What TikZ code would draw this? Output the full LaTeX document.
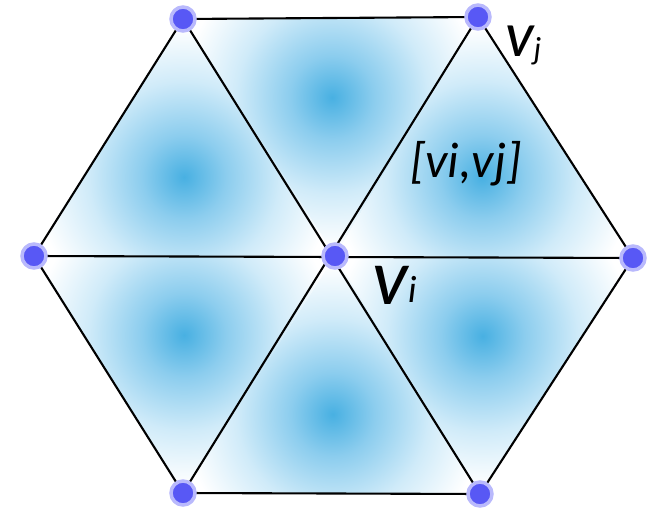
\documentclass[tikz,border=0pt]{standalone}
\usepackage{fontspec}
\setmainfont{Carlito}
\usetikzlibrary{calc}
\definecolor{cA}{RGB}{72,176,226}
\definecolor{cB}{RGB}{140,205,238}
\definecolor{cC}{RGB}{208,235,249}
\definecolor{dotc}{RGB}{88,88,245}
\definecolor{haloc}{RGB}{185,185,252}
\pgfdeclareradialshading{trishade}{\pgfpoint{0bp}{0bp}}{color(0bp)=(cA); color(7bp)=(cB); color(16bp)=(cC); color(25bp)=(white); color(50bp)=(white)}
\begin{document}
\begin{tikzpicture}[x=1pt,y=-1pt,
  edge/.style={line width=2.1pt,black},
  vdot/.style={circle,fill=dotc,draw=haloc,line width=3.5pt,minimum size=24pt,inner sep=0pt},
  lab/.style={inner sep=0pt,font=\itshape}]
\useasboundingbox (0,0) rectangle (654,513);
\coordinate (A) at (183,19);
\coordinate (B) at (478,17);
\coordinate (C) at (633,258);
\coordinate (D) at (480,494);
\coordinate (E) at (183,493);
\coordinate (F) at (34,256);
\coordinate (O) at (335,256);
\foreach \p/\q in {A/B,B/C,C/D,D/E,E/F,F/A}{
  \begin{scope}
    \clip (O) -- (\p) -- (\q) -- cycle;
    \shade[shading=trishade] ($(O)!0.5!(\p)!1/3!(\q)$) circle (150);
  \end{scope}
}
\draw[edge] (A) -- (B) -- (C) -- (D) -- (E) -- (F) -- cycle;
\draw[edge] (A) -- (D) (B) -- (E) (F) -- (C);
\foreach \n in {A,B,C,D,E,F,O}{
  \node[vdot] (n\n) at (\n) {};
}
\node[lab,anchor=base west] (lj) at (505,57) {\fontsize{64}{64}\selectfont v\raisebox{-3pt}{\fontsize{32}{32}\selectfont j}};
\node[lab,anchor=base west] (le) at (410,178) {\fontsize{50}{50}\selectfont [vi,vj]};
\node[lab,anchor=base west] (li) at (372,305) {\fontsize{80}{80}\selectfont v\raisebox{2pt}{\fontsize{38}{38}\selectfont i}};
\end{tikzpicture}
\end{document}
